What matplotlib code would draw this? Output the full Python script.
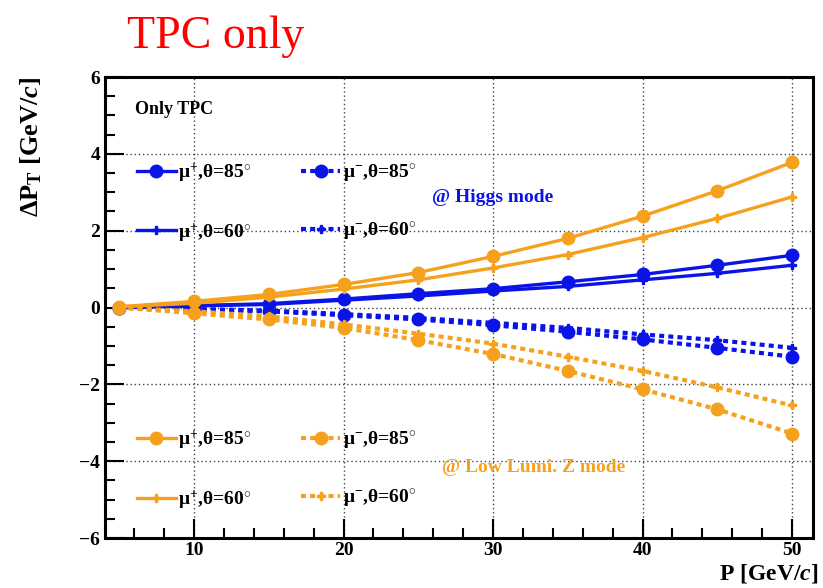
import matplotlib
matplotlib.use("Agg")
import matplotlib.pyplot as plt
from matplotlib.ticker import MultipleLocator, FixedLocator

plt.rcParams["font.family"] = ["Liberation Serif", "DejaVu Serif"]
plt.rcParams["font.weight"] = "bold"
plt.rcParams["axes.labelweight"] = "bold"
plt.rcParams["mathtext.fontset"] = "custom"
plt.rcParams["mathtext.rm"] = "Liberation Serif:bold"
plt.rcParams["mathtext.bf"] = "Liberation Serif:bold"
plt.rcParams["mathtext.it"] = "Liberation Serif:italic:bold"

# momentum points [GeV/c]
p = [5, 10, 15, 20, 25, 30, 35, 40, 45, 50]

# Higgs mode
higgs_mup_85 = [0.0, 0.05, 0.10, 0.22, 0.36, 0.49, 0.67, 0.86, 1.10, 1.36]
higgs_mup_60 = [0.0, 0.04, 0.08, 0.19, 0.30, 0.43, 0.55, 0.72, 0.89, 1.10]
higgs_mum_85 = [0.0, -0.05, -0.10, -0.20, -0.31, -0.46, -0.63, -0.83, -1.05, -1.28]
higgs_mum_60 = [0.0, -0.04, -0.08, -0.17, -0.27, -0.40, -0.53, -0.70, -0.85, -1.05]

# low lumi Z mode
z_mup_85 = [0.02, 0.16, 0.34, 0.60, 0.91, 1.33, 1.80, 2.38, 3.04, 3.78]
z_mup_60 = [0.02, 0.11, 0.27, 0.48, 0.72, 1.03, 1.38, 1.82, 2.32, 2.88]
z_mum_85 = [0.0, -0.15, -0.31, -0.53, -0.85, -1.21, -1.65, -2.13, -2.65, -3.28]
z_mum_60 = [0.0, -0.10, -0.23, -0.44, -0.68, -0.94, -1.28, -1.65, -2.08, -2.55]

labels = [r"μ$^{+}$,θ=85$^{\circ}$", r"μ$^{+}$,θ=60$^{\circ}$",
          r"μ$^{-}$,θ=85$^{\circ}$", r"μ$^{-}$,θ=60$^{\circ}$"]

BLUE = "#0a14e6"
ORANGE = "#f6a11d"
dash = (0, (1.2, 1.0))

fig = plt.figure(figsize=(8.23, 5.88), dpi=100)
ax = fig.add_axes([0.1276, 0.085, 0.8603, 0.784])


def draw_set(color, ys):
    a, b, c, d = ys
    h1, = ax.plot(p, a, color=color, lw=2.4, ls="-", marker="o", ms=9, label=labels[0])
    h2, = ax.plot(p, b, color=color, lw=2.4, ls="-", marker="P", ms=6, label=labels[1])
    h3, = ax.plot(p, c, color=color, lw=3.0, ls=dash, marker="o", ms=9, label=labels[2])
    h4, = ax.plot(p, d, color=color, lw=3.0, ls=dash, marker="P", ms=6, label=labels[3])
    return [h1, h2, h3, h4]


hb = draw_set(BLUE, (higgs_mup_85, higgs_mup_60, higgs_mum_85, higgs_mum_60))
ho = draw_set(ORANGE, (z_mup_85, z_mup_60, z_mum_85, z_mum_60))

ax.set_xlim(4.05, 51.4)
ax.set_ylim(-6, 6)
ax.xaxis.set_major_locator(FixedLocator([10, 20, 30, 40, 50]))
ax.xaxis.set_minor_locator(MultipleLocator(2))
ax.yaxis.set_major_locator(MultipleLocator(2))
ax.yaxis.set_minor_locator(MultipleLocator(0.5))
ax.tick_params(which="both", direction="in", top=False, right=False, labelsize=14, width=1.5)
ax.tick_params(which="major", length=14)
ax.tick_params(which="minor", length=7)
ax.tick_params(axis="x", pad=3)
for s in ax.spines.values():
    s.set_linewidth(2.2)

ax.grid(True, which="major", color="#444444", ls=(0, (1, 2)), lw=1.0)
ax.set_axisbelow(True)

ax.set_xlabel(r"P [GeV/$\mathit{c}$]", fontsize=17, fontweight="bold", ha="right")
ax.xaxis.set_label_coords(1.008, -0.102)
ax.xaxis.label.set_va("bottom")
ax.set_ylabel(r"ΔP$_{\mathrm{T}}$ [GeV/$\mathit{c}$]", fontsize=19, fontweight="bold", ha="right")
ax.yaxis.set_label_coords(-0.086, 1.0)

leg_kw = dict(ncol=2, frameon=False, fontsize=14, handlelength=2.0, handletextpad=0.15,
              columnspacing=2.55, labelspacing=1.9, borderpad=0, loc="upper left")
lb = ax.legend(handles=hb, bbox_to_anchor=(0.031, 0.838), **leg_kw)
ax.add_artist(lb)
ax.legend(handles=ho, bbox_to_anchor=(0.031, 0.258), **leg_kw)

ax.text(0.042, 0.93, "Only TPC", transform=ax.transAxes, fontsize=13, va="center")
ax.text(0.547, 0.739, "@ Higgs mode", transform=ax.transAxes, fontsize=14,
        color=BLUE, ha="center", va="center")
ax.text(0.605, 0.154, "@ Low Lumi. Z mode", transform=ax.transAxes, fontsize=14,
        color=ORANGE, ha="center", va="center")

fig.text(0.262, 0.938, "TPC only", color="red", fontsize=33, fontweight="normal",
         ha="center", va="center")

fig.savefig("out.png", dpi=100)
